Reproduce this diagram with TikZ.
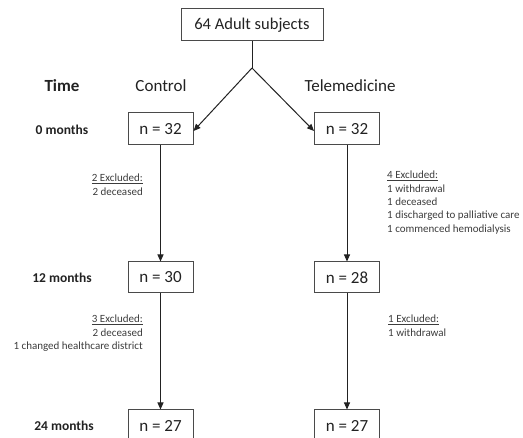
\documentclass[tikz,border=0pt]{standalone}
\usepackage{fontspec}
\setmainfont{Carlito}
\usetikzlibrary{arrows.meta}
\definecolor{ink}{HTML}{222222}
\definecolor{boxline}{HTML}{4A4A4A}
\definecolor{note}{HTML}{3C3C3C}
\begin{document}
\begin{tikzpicture}[x=1pt,y=-1pt,
  nbox/.style={draw=boxline,line width=1pt,minimum width=65pt,minimum height=32pt,inner sep=0pt,text=ink,font=\fontsize{17}{20}\selectfont},
  head/.style={text=ink,font=\fontsize{17}{20}\selectfont,inner sep=0pt},
  timelbl/.style={text=ink,font=\bfseries\fontsize{13.5}{16}\selectfont,inner sep=0pt},
  excl/.style={text=note,font=\fontsize{11}{13.3}\selectfont,inner sep=0pt},
  arr/.style={draw=ink,line width=1pt,-{Triangle[length=7pt,width=6pt]}},
  ln/.style={draw=ink,line width=1pt}]
\useasboundingbox (0,0) rectangle (523,438);
% top
\node[nbox,minimum width=142pt,font=\fontsize{16.5}{20}\selectfont] (top) at (252,25) {64 Adult subjects};
\coordinate (apex) at (252,68);
% headers
\node[head,font=\bfseries\fontsize{17}{20}\selectfont] (time) at (62,86) {Time};
\node[head] (ctrl) at (161,86) {Control};
\node[head] (tele) at (350,86) {Telemedicine};
% time labels
\node[timelbl] (m0) at (62,130) {0 months};
\node[timelbl] (m12) at (62,278) {12 months};
\node[timelbl] (m24) at (64,426) {24 months};
% boxes
\node[nbox] (c0) at (160.5,129) {n = 32};
\node[nbox] (t0) at (347,129) {n = 32};
\node[nbox,minimum height=31pt] (c12) at (160.5,277.5) {n = 30};
\node[nbox,minimum height=31pt] (t12) at (347,277.5) {n = 28};
\node[nbox] (c24) at (160.5,426) {n = 27};
\node[nbox] (t24) at (347,426) {n = 27};
% connectors
\draw[ln] (top.south) -- (apex);
\draw[arr] (apex) -- ([yshift=-2pt]c0.east);
\draw[arr] (apex) -- ([yshift=-2pt]t0.west);
\draw[arr] (c0.south) -- (c12.north);
\draw[arr] (t0.south) -- (t12.north);
\draw[arr] (c12.south) -- (c24.north);
\draw[arr] (t12.south) -- (t24.north);
% exclusions
\node[excl,anchor=north east,align=right] (ex1) at (143,174) {\underline{2 Excluded:}\\2 deceased};
\node[excl,anchor=north west,align=left] (ex2) at (387,171) {\underline{4 Excluded:}\\1 withdrawal\\1 deceased\\1 discharged to palliative care\\1 commenced hemodialysis};
\node[excl,anchor=north east,align=right] (ex3) at (143,315) {\underline{3 Excluded:}\\2 deceased\\1 changed healthcare district};
\node[excl,anchor=north west,align=left] (ex4) at (388,315) {\underline{1 Excluded:}\\1 withdrawal};
\end{tikzpicture}
\end{document}
